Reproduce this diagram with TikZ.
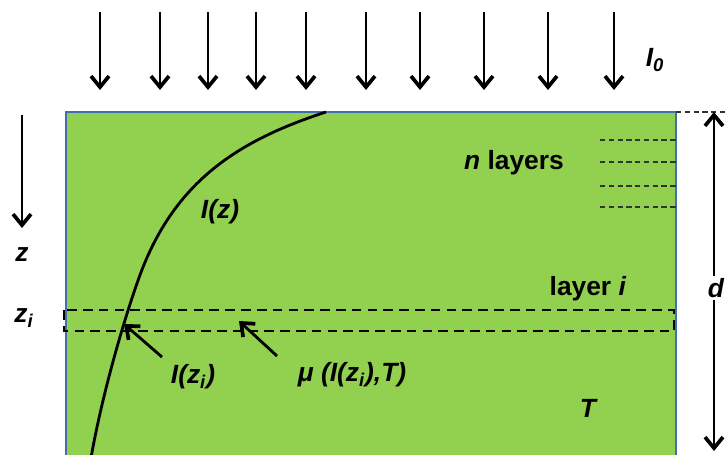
\documentclass[tikz,border=0pt]{standalone}
\usepackage{fontspec}
\setmainfont{Liberation Sans}
\usetikzlibrary{arrows.meta}
\definecolor{slab}{HTML}{92D050}
\definecolor{slabrim}{HTML}{3F6FAE}

\begin{document}
\begin{tikzpicture}[x=0.02cm, y=-0.02cm, >={Straight Barb[length=2.2mm,width=3.6mm,line width=2.1pt]},
	lbl/.style={font=\fontsize{15}{17}\selectfont\bfseries\itshape, inner sep=1pt},
	beam/.style={->, line width=1.6pt}]
	\def\lft{66}		% slab left
	\def\rgt{676}		% slab right
	\def\ztop{112}		% slab top
	\def\zi{310}		% layer i top
	\def\zj{331}		% layer i bottom
	\def\dlw{.6pt}

	% Page
	\clip (0, 0) rectangle (725, 454);

	% Slab
	\fill[slab] (\lft, \ztop) rectangle (\rgt, 470);
	\draw[slabrim, line width=1.2pt] (\lft, 470) -- (\lft, \ztop) -- (\rgt, \ztop) -- (\rgt, 470);

	% Incoming light
	\foreach \x [count=\k] in {100, 160, 208, 256, 306, 366, 420, 484, 548, 614} {
		\coordinate (in\k) at (\x, 12);
		\coordinate (out\k) at (\x, 90);
		\draw[beam] (in\k) -- (out\k);
	}
	\node[lbl] (izero) at (655, 60) {I\textsubscript{0}};

	% Depth axis
	\coordinate (zfrom) at (22, 115);
	\coordinate (zto) at (22, 228);
	\draw[beam] (zfrom) -- (zto);
	\node[lbl] (zlab) at (22, 255) {z};
	\node[lbl] (zilab) at (24, 318) {z\textsubscript{i}};

	% Intensity profile
	\draw[line width=1.6pt] (326, 112) .. controls (240, 140) and (175, 180) .. (140, 275)
		.. controls (125, 316) and (100, 400) .. (89, 470);
	\node[lbl] (izlab) at (220, 212) {I(z)};

	% Layer i
	\draw[line width=1.3pt, dash pattern=on 5.5pt off 3.5pt] (64, \zi) rectangle (674, \zj);
	\node[lbl, font=\fontsize{15}{17}\selectfont\bfseries] (layi) at (588, 289) {layer \textit{i}};

	% n layers
	\foreach \y in {140, 162, 186, 207}
		\draw[black!80, densely dashed, line width=\dlw] (600, \y) -- (\rgt, \y);
	\node[lbl, font=\fontsize{15}{17}\selectfont\bfseries] (nlay) at (514, 163) {\textit{n} layers};

	% Pointers
	\coordinate (izt) at (162, 357);
	\coordinate (izh) at (124, 324);
	\draw[beam] (izt) -- (izh);
	\node[lbl] (izilab) at (193, 377) {I(z\textsubscript{i})};
	\coordinate (mut) at (277, 356);
	\coordinate (muh) at (239, 321);
	\draw[beam] (mut) -- (muh);
	\node[lbl] (mulab) at (352, 375) {μ (I(z\textsubscript{i}),T)};

	\node[lbl] (tlab) at (588, 408) {T};

	% Thickness
	\draw[black!80, densely dashed, line width=\dlw] (\rgt, \ztop) -- (725, \ztop);
	\coordinate (dtop) at (714, \ztop);
	\coordinate (dbot) at (714, 451);
	\node[lbl] (dlab) at (716, 288) {d};
	\draw[beam, <-] (dtop) -- (dtop |- dlab.north);
	\draw[beam] (dtop |- dlab.south) -- (dbot);
\end{tikzpicture}
\end{document}
